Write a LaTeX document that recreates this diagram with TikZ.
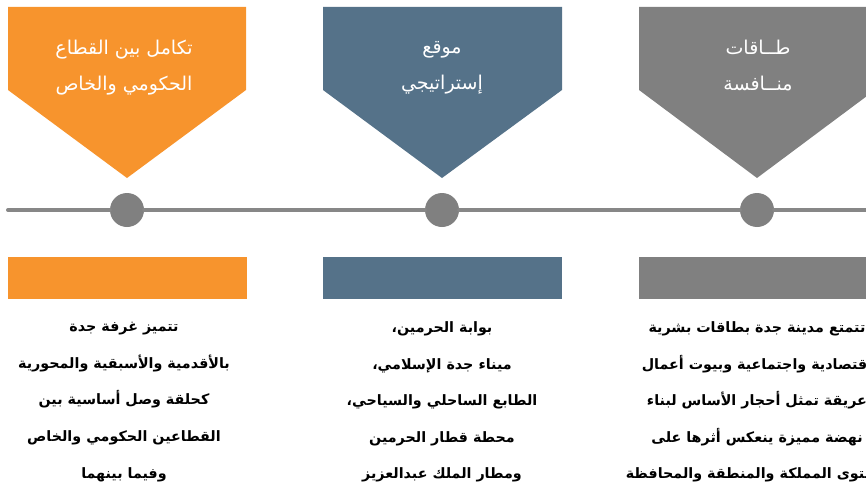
\documentclass[tikz,border=0pt]{standalone}
\usepackage{fontspec}
\newfontfamily\arabicfont[Script=Arabic]{DejaVu Sans}
\TeXXeTstate=1
\newcommand{\arline}[1]{\beginR #1\endR}

\definecolor{capeorange}{HTML}{F7942D}
\definecolor{portblue}{HTML}{557289}
\definecolor{stonegrey}{HTML}{808080}
\definecolor{linegrey}{HTML}{878787}

\tikzset{
  headtext/.style={text=white, align=center, inner sep=0pt,
    font=\arabicfont\fontsize{19}{36}\selectfont},
  bodytext/.style={text=black, align=center, inner sep=0pt,
    font=\arabicfont\bfseries\fontsize{14.3}{36.6}\selectfont},
  milestone/.style={circle, fill=stonegrey, minimum size=34pt, inner sep=0pt},
  timeline/.style={linegrey, line width=4pt, line cap=round},
}

\begin{document}
\begin{tikzpicture}[x=1pt, y=-1pt]
    \useasboundingbox (0, 0) rectangle (866, 487);
    \clip (0, 0) rectangle (866, 487);
    % heads
    \fill[capeorange] (8, 7) -- (246, 7) -- (246, 90) -- (127, 178) -- (8, 90) -- cycle;
    \fill[portblue] (323, 7) -- (562, 7) -- (562, 90) -- (442, 178) -- (323, 90) -- cycle;
    \fill[stonegrey] (639, 7) -- (875, 7) -- (875, 90) -- (757, 178) -- (639, 90) -- cycle;
    \node[headtext] (headA) at (124, 68) {\arline{تكامل بين القطاع}\\\arline{الحكومي والخاص}};
    \node[headtext] (headB) at (442, 68) {\arline{موقع}\\\arline{إستراتيجي}};
    \node[headtext] (headC) at (758, 66) {\arline{طــاقات}\\\arline{منــافسة}};
    % timeline
    \coordinate (lineL) at (8, 210);
    \coordinate (lineR) at (870, 210);
    \node[milestone] (dotA) at (127, 210) {};
    \node[milestone] (dotB) at (442, 210) {};
    \node[milestone] (dotC) at (757, 210) {};
    \draw[timeline] (lineL) -- (dotA) -- (dotB) -- (dotC) -- (lineR);
    % bars
    \fill[capeorange] (8, 257) rectangle (247, 299);
    \fill[portblue] (323, 257) rectangle (562, 299);
    \fill[stonegrey] (639, 257) rectangle (875, 299);
    % texts
    \node[bodytext] (textA) at (124, 402) {\arline{تتميز غرفة جدة}\\\arline{بالأقدمية والأسبقية والمحورية}\\\arline{كحلقة وصل أساسية بين}\\\arline{القطاعين الحكومي والخاص}\\\arline{وفيما بينهما}};
    \node[bodytext] (textB) at (442, 402) {\arline{بوابة الحرمين،}\\\arline{ميناء جدة الإسلامي،}\\\arline{الطابع الساحلي والسياحي،}\\\arline{محطة قطار الحرمين}\\\arline{ومطار الملك عبدالعزيز}};
    \node[bodytext] (textC) at (757, 402) {\arline{تتمتع مدينة جدة بطاقات بشرية}\\\arline{اقتصادية واجتماعية وبيوت أعمال}\\\arline{عريقة تمثل أحجار الأساس لبناء}\\\arline{نهضة مميزة ينعكس أثرها على}\\\arline{مستوى المملكة والمنطقة والمحافظة}};
\end{tikzpicture}
\end{document}
